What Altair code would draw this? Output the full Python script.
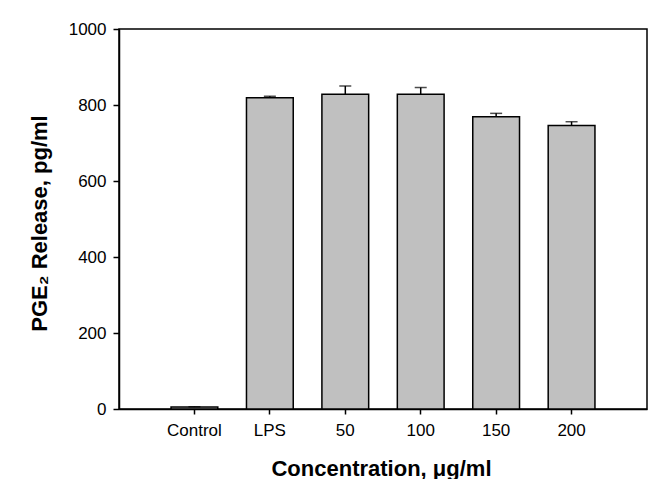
import altair as alt
import pandas as pd

categories = ["Control", "LPS", "50", "100", "150", "200"]
means = [5, 819, 828, 828, 769, 746]
errors = [1, 4, 22, 18, 9, 10]

df = pd.DataFrame({"cat": categories, "mean": means, "err": errors})
df["top"] = df["mean"] + df["err"]

font = "Liberation Sans"

xenc = alt.X("cat:N", sort=categories,
             scale=alt.Scale(paddingInner=0.38, paddingOuter=0.69),
             axis=alt.Axis(title="Concentration, μg/ml", labelAngle=0,
                           tickSize=5, labelPadding=8,
                           titleX=262, titleY=59, titleBaseline="middle",
                           titleAlign="center"))
yscale = alt.Scale(domain=[0, 1000], nice=False)

bars = alt.Chart(df).mark_bar(fill="#c0c0c0", stroke="black", strokeWidth=1.5).encode(
    x=xenc,
    y=alt.Y("mean:Q", scale=yscale,
            axis=alt.Axis(title="PGE₂ Release, pg/ml", values=[0, 200, 400, 600, 800, 1000],
                          format="d",
                          tickSize=6, labelPadding=7, grid=False,
                          titleAngle=270, titleX=-80, titleY=194,
                          titleBaseline="middle", titleAlign="center")),
)

stems = alt.Chart(df).mark_rule(color="black", strokeWidth=1.5).encode(
    x=alt.X("cat:N", sort=categories),
    y=alt.Y("mean:Q", scale=yscale),
    y2="top:Q",
)

caps = alt.Chart(df).mark_tick(color="black", thickness=1.5, size=12, orient="horizontal").encode(
    x=alt.X("cat:N", sort=categories),
    y=alt.Y("top:Q", scale=yscale),
)

chart = (bars + stems + caps).properties(
    width=528, height=380,
    background="white",
    autosize=alt.AutoSizeParams(type="none"),
    padding={"left": 111, "top": 21, "right": 8, "bottom": 70},
).configure_view(
    stroke="black", strokeWidth=1.5
).configure_axis(
    domainColor="black", domainWidth=1.5, tickColor="black", tickWidth=1.5,
    labelFont=font, labelFontSize=17, labelColor="black",
    titleFont=font, titleFontSize=22, titleFontWeight="bold", titleColor="black",
    grid=False,
)

chart.save("out.html", embed_options={"renderer": "svg", "actions": False})
